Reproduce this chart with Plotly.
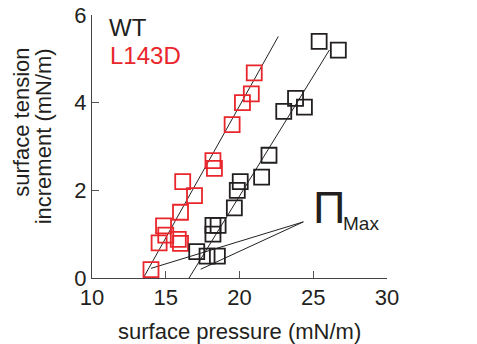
import plotly.graph_objects as go

# Data
wt_x = [17.1, 17.8, 18.5, 18.2, 18.2, 18.55, 19.65, 19.85, 20.05, 21.5, 22.0, 23.0, 23.8, 24.4, 25.4, 26.7]
wt_y = [0.6, 0.5, 0.5, 1.0, 1.2, 1.2, 1.6, 2.0, 2.2, 2.3, 2.8, 3.8, 4.1, 3.9, 5.4, 5.2]

mut_x = [14.0, 14.55, 14.85, 15.0, 15.85, 16.0, 16.0, 16.15, 16.95, 18.2, 18.3, 19.5, 20.2, 20.8, 21.0]
mut_y = [0.19, 0.80, 1.19, 0.98, 0.88, 0.79, 1.50, 2.2, 1.88, 2.68, 2.5, 3.5, 4.0, 4.2, 4.68]

# linear fits (endpoints)
mut_fit_x = [13.48, 22.63]
mut_fit_y = [0.0, 5.51]
wt_fit_x = [16.58, 26.09]
wt_fit_y = [0.0, 5.2]

# pointer lines for Pi_Max label
ptr_start = (24.33, 1.28)
ptr_ends_x = [14.0, 17.37]
ptr_ends_y = [0.22, 0.20]

x_ticks = [10, 15, 20, 25, 30]
y_ticks = [0, 2, 4, 6]

RED = "#e8262b"
BLACK = "#231f20"
FONT = "Liberation Sans, Arial, sans-serif"

fig = go.Figure()

fig.add_trace(go.Scatter(x=mut_fit_x, y=mut_fit_y, mode="lines",
                         line=dict(color="#222", width=1), hoverinfo="skip"))
fig.add_trace(go.Scatter(x=wt_fit_x, y=wt_fit_y, mode="lines",
                         line=dict(color="#222", width=1), hoverinfo="skip"))

for ex, ey in zip(ptr_ends_x, ptr_ends_y):
    fig.add_trace(go.Scatter(x=[ptr_start[0], ex], y=[ptr_start[1], ey], mode="lines",
                             line=dict(color="#222", width=1), hoverinfo="skip"))

fig.add_trace(go.Scatter(x=mut_x, y=mut_y, mode="markers",
                         marker=dict(symbol="square-open", size=15, color=RED,
                                     line=dict(width=1.8, color=RED))))
fig.add_trace(go.Scatter(x=wt_x, y=wt_y, mode="markers",
                         marker=dict(symbol="square-open", size=15, color=BLACK,
                                     line=dict(width=1.8, color=BLACK))))

annos = [
    dict(x=11.0, y=5.72, text="WT", font=dict(size=24, color=BLACK)),
    dict(x=11.1, y=5.08, text="L143D", font=dict(size=24, color=RED)),
    dict(x=24.85, y=1.61, text="Π", font=dict(size=45, color=BLACK)),
    dict(x=26.85, y=1.25, text="Max", font=dict(size=19, color=BLACK)),
]
for a in annos:
    fig.add_annotation(xref="x", yref="y", showarrow=False, xanchor="left",
                       yanchor="middle", **a)

# y-axis title, two tightly spaced lines
for xp, txt in [(-0.24, "surface tension"), (-0.165, "increment (mN/m)")]:
    fig.add_annotation(xref="paper", yref="paper", x=xp, y=(278 - 46) / 263,
                       text=txt, textangle=-90, showarrow=False,
                       xanchor="center", yanchor="top",
                       font=dict(size=22, color=BLACK, family=FONT))

# x-axis title
fig.add_annotation(xref="paper", yref="paper", x=0.5, y=-0.205,
                   text="surface pressure (mN/m)", showarrow=False,
                   xanchor="center", yanchor="middle",
                   font=dict(size=22, color=BLACK, family=FONT))

fig.update_layout(
    width=477, height=344,
    margin=dict(l=92, r=90, t=15, b=66),
    paper_bgcolor="white", plot_bgcolor="white",
    showlegend=False,
    font=dict(family=FONT, color=BLACK, size=22),
    xaxis=dict(range=[10, 30], tickvals=x_ticks, ticks="inside", ticklen=7,
               tickcolor="#555", showline=True, linecolor="#444", linewidth=1,
               showgrid=False, zeroline=False, tickfont=dict(size=22),
               automargin=False),
    yaxis=dict(range=[0, 6], tickvals=y_ticks, ticks="inside", ticklen=7,
               tickcolor="#555", showline=True, linecolor="#444", linewidth=1,
               showgrid=False, zeroline=False, tickfont=dict(size=22),
               automargin=False),
)

fig.write_html("out.html")
